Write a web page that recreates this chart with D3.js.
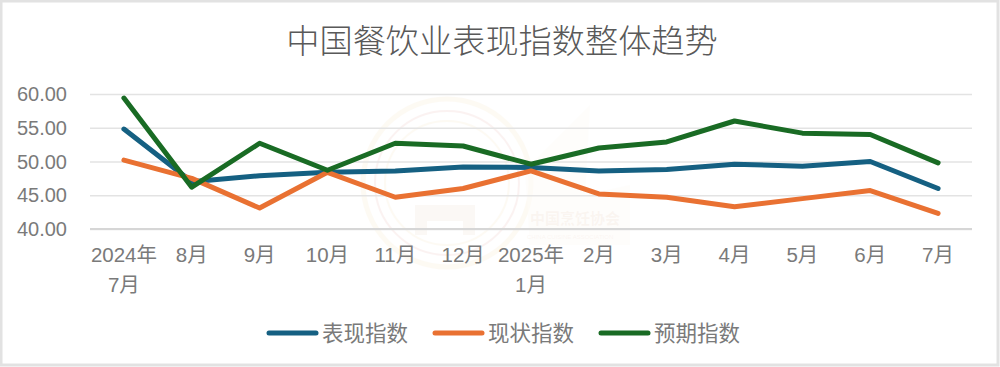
<!DOCTYPE html>
<html>
<head>
<meta charset="utf-8">
<script src="https://cdn.jsdelivr.net/npm/d3@7"></script>
<style>
html, body { margin: 0; padding: 0; background: #fff; }
svg { display: block; }
text { font-family: "Liberation Sans", "Noto Sans CJK SC", sans-serif; }
</style>
</head>
<body>
<script>
var categories = ["2024年\n7月", "8月", "9月", "10月", "11月", "12月", "2025年\n1月", "2月", "3月", "4月", "5月", "6月", "7月"];
var perfValues = [54.8, 47.0, 47.9, 48.4, 48.6, 49.2, 49.1, 48.6, 48.8, 49.6, 49.3, 50.0, 46.0];
var currentValues = [50.2, 47.5, 43.1, 48.4, 44.7, 46.0, 48.6, 45.2, 44.7, 43.3, 44.5, 45.7, 42.3];
var expectValues = [59.4, 46.2, 52.7, 48.7, 52.7, 52.3, 49.6, 52.0, 52.9, 56.0, 54.2, 54.0, 49.8];
var seriesNames = ["表现指数", "现状指数", "预期指数"];
var seriesColors = ["#156082", "#E97132", "#196B24"];
var yTicks = [40, 45, 50, 55, 60];

var svg = d3.select("body")
    .append("svg")
    .attr("width", 1000)
    .attr("height", 367);

var margin = {top: 94, right: 28, bottom: 138, left: 90};
var width = 1000 - margin.left - margin.right;
var height = 367 - margin.top - margin.bottom;

// picture frame
svg.append("rect")
    .attr("x", 1).attr("y", 1)
    .attr("width", 997).attr("height", 364)
    .attr("fill", "#fff")
    .attr("stroke", "#e2e2e2")
    .attr("stroke-width", 3);

svg.append("text")
    .attr("x", 502)
    .attr("y", 53)
    .attr("text-anchor", "middle")
    .attr("fill", "#595959")
    .style("font-size", "33.2px")
    .style("font-weight", "300")
    .text("中国餐饮业表现指数整体趋势");

// faint watermark behind the plot
var mark = svg.append("g").attr("opacity", 0.06);
[84, 72, 62].forEach(function(r, i) {
    mark.append("circle")
        .attr("cx", 447).attr("cy", 183).attr("r", r)
        .attr("fill", "none")
        .attr("stroke", i == 1 ? "#c0392b" : "#e8b04a")
        .attr("stroke-width", i == 0 ? 5 : 2);
});
mark.append("path")
    .attr("d", "M525 170L590 105L585 195L630 185L630 245L530 245Z")
    .attr("fill", "#f3cf9a")
    .attr("opacity", 0.5);
mark.append("path")
    .attr("d", "M415 205h60v30h-12v-14h-36v14h-12Z")
    .attr("fill", "#c98f6a");
mark.append("text")
    .attr("x", 530).attr("y", 224)
    .attr("fill", "#b5651d")
    .style("font-size", "15px")
    .style("font-weight", "bold")
    .text("中国烹饪协会");
mark.append("text")
    .attr("x", 527).attr("y", 239)
    .attr("fill", "#b5651d")
    .style("font-size", "6px")
    .text("CHINA CUISINE ASSOCIATION");

var g = svg.append("g").attr("transform", "translate(" + margin.left + "," + margin.top + ")");

var x = d3.scaleBand()
    .domain(categories)
    .range([0, width]);

var y = d3.scaleLinear()
    .domain([40, 60])
    .range([height, 0]);

var xAxis = d3.axisBottom(x).tickSize(0);
var yAxis = d3.axisLeft(y)
    .tickSize(width)
    .tickValues(yTicks)
    .tickFormat(d3.format(".2f"));

g.append("g")
    .attr("transform", "translate(" + width + ",0)")
    .call(yAxis)
    .call(function(a) {
        a.select(".domain").remove();
        a.selectAll(".tick line").attr("stroke", "#e3e3e3").attr("stroke-width", 1.6);
        a.selectAll(".tick text")
            .attr("x", -width - 23)
            .attr("dy", "0.33em")
            .attr("fill", "#7a7a7a")
            .style("font-size", "20px")
            .style("font-family", '"Liberation Sans", sans-serif');
    });

// axis baseline sits a little darker than the grid
g.append("line")
    .attr("x1", 0).attr("x2", width)
    .attr("y1", y(40)).attr("y2", y(40))
    .attr("stroke", "#d6d6d6")
    .attr("stroke-width", 1.8);

g.append("g")
    .attr("transform", "translate(0," + height + ")")
    .call(xAxis)
    .call(function(a) {
        a.select(".domain").remove();
        a.selectAll(".tick text").each(function(d) {
            var t = d3.select(this).text("").attr("y", 0).attr("dy", null);
            d.split("\n").forEach(function(s, i) {
                t.append("tspan")
                    .attr("x", 0)
                    .attr("y", 33 + i * 30)
                    .text(s);
            });
        })
        .attr("fill", "#7a7a7a")
        .style("font-size", "20.5px")
        .style("font-family", '"Liberation Sans", "Noto Sans CJK SC", sans-serif');
    });

var line = d3.line()
    .x(function(d, i) { return x(categories[i]) + x.bandwidth() / 2; })
    .y(function(d) { return y(d); });

[perfValues, currentValues, expectValues].forEach(function(values, i) {
    g.append("path")
        .datum(values)
        .attr("d", line)
        .attr("fill", "none")
        .attr("stroke", seriesColors[i])
        .attr("stroke-width", 5)
        .attr("stroke-linecap", "round")
        .attr("stroke-linejoin", "round");
});

var legend = svg.append("g").attr("transform", "translate(269,333)");
seriesNames.forEach(function(name, i) {
    var item = legend.append("g").attr("transform", "translate(" + (i * 166) + ",0)");
    item.append("line")
        .attr("x1", 0).attr("x2", 47)
        .attr("stroke", seriesColors[i])
        .attr("stroke-width", 5)
        .attr("stroke-linecap", "round");
    item.append("text")
        .attr("x", 53)
        .attr("y", 8)
        .attr("fill", "#7a7a7a")
        .style("font-size", "21.5px")
        .text(name);
});
</script>
</body>
</html>
